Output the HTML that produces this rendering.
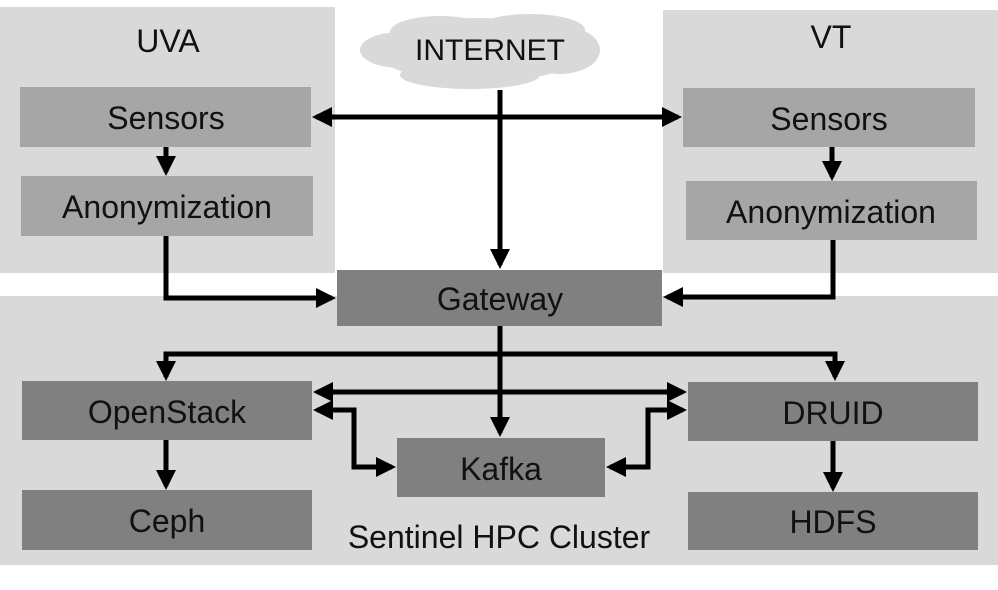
<!DOCTYPE html>
<html><head><meta charset="utf-8"><style>
body{margin:0;background:#fff}
svg text{font-family:"Liberation Sans",sans-serif;fill:#111}
</style></head><body>
<svg width="998" height="585" viewBox="0 0 998 585" xmlns="http://www.w3.org/2000/svg">
<defs><marker id="a" markerWidth="4" markerHeight="4" refX="3.2" refY="2" orient="auto" markerUnits="strokeWidth"><path d="M0,0 L4,2 L0,4 z" fill="#000"/></marker></defs>
<rect x="0" y="7" width="335" height="266" fill="#d9d9d9"/>
<rect x="663" y="10" width="335" height="263" fill="#d9d9d9"/>
<rect x="0" y="296" width="998" height="269" fill="#d9d9d9"/>
<g fill="#d9d9d9">
<ellipse cx="480" cy="50" rx="105" ry="32"/>
<ellipse cx="400" cy="50" rx="40" ry="18"/>
<ellipse cx="560" cy="50" rx="40" ry="24"/>
<ellipse cx="440" cy="32" rx="50" ry="16"/>
<ellipse cx="530" cy="30" rx="55" ry="16"/>
<ellipse cx="470" cy="75" rx="70" ry="14"/>
</g>
<text x="490" y="60" font-size="30" text-anchor="middle">INTERNET</text>
<text x="168" y="52" font-size="32" text-anchor="middle">UVA</text>
<text x="831" y="48" font-size="32" text-anchor="middle">VT</text>
<g fill="#a6a6a6">
<rect x="20" y="87" width="291" height="60"/><rect x="21" y="176" width="292" height="60"/>
<rect x="683" y="88" width="292" height="59"/>
<rect x="686" y="181" width="291" height="59"/>
</g>
<g fill="#808080">
<rect x="337" y="270" width="325" height="56"/>
<rect x="22" y="381" width="290" height="59"/><rect x="22" y="490" width="290" height="60"/>
<rect x="397" y="438" width="208" height="59"/>
<rect x="688" y="382" width="290" height="59"/><rect x="688" y="492" width="290" height="58"/>
</g>
<g font-size="32" text-anchor="middle">
<text x="166" y="129">Sensors</text><text x="167" y="218">Anonymization</text>
<text x="829" y="130">Sensors</text><text x="831" y="223">Anonymization</text>
<text x="500" y="310">Gateway</text>
<text x="167" y="423">OpenStack</text><text x="167" y="532">Ceph</text>
<text x="501" y="480">Kafka</text>
<text x="833" y="424">DRUID</text><text x="833" y="533">HDFS</text>
<text x="499" y="548">Sentinel HPC Cluster</text>
</g>
<g stroke="#000" stroke-width="5" fill="none" marker-end="url(#a)">
<path d="M500,90 V265"/>
<path d="M500,117 H316"/><path d="M500,117 H678"/>
<path d="M166,147 V172"/><path d="M832,147 V177"/>
<path d="M166,236 V298 H332"/>
<path d="M833,240 V297 H667"/>
<path d="M500,326 V433"/>
<path d="M500,354 H166 V377"/><path d="M500,354 H835 V377"/>
<path d="M500,392 H317"/><path d="M500,392 H683"/>
<path d="M354,440 V410 H317"/><path d="M354,440 V467 H392"/>
<path d="M648,440 V467 H610"/><path d="M648,440 V410 H683"/>
<path d="M166,440 V486"/><path d="M833,441 V488"/>
</g>
</svg>
</body></html>
